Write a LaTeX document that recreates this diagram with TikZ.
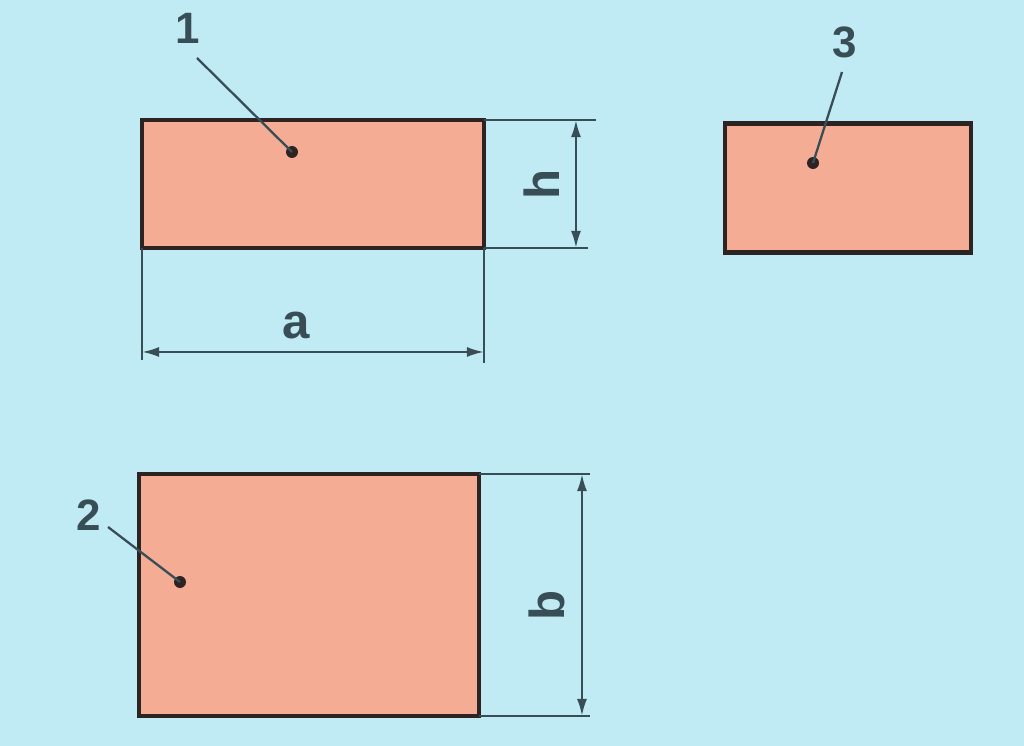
\documentclass[tikz,border=0pt]{standalone}
\usepackage{fontspec}
\setmainfont{Liberation Sans}
\usepackage{tikz}
\usetikzlibrary{positioning}
\usetikzlibrary{arrows.meta, calc}
\definecolor{bgblue}{RGB}{193,235,244}
\definecolor{brickfill}{RGB}{244,172,148}
\definecolor{edgedark}{RGB}{45,35,35}
\definecolor{dimgray}{RGB}{55,78,86}
\tikzstyle{brick} = [draw=edgedark, fill=brickfill, line width=2.4pt, inner sep=0pt, outer sep=0pt]
\tikzstyle{dimline} = [draw=dimgray, line width=1.3pt]
\tikzstyle{dimarrow} = [dimline, {Latex[length=3.4mm,width=2mm]}-{Latex[length=3.4mm,width=2mm]}]
\tikzstyle{dot} = [circle, fill=edgedark, inner sep=0pt, minimum size=2.4mm]
\tikzstyle{num} = [text=dimgray, font=\fontsize{25}{30}\selectfont\bfseries]
\tikzstyle{dimlabel} = [text=dimgray, font=\fontsize{28}{34}\selectfont\bfseries]

\begin{document}
\begin{tikzpicture}[x=0.02cm, y=-0.02cm]
  \fill[bgblue] (0,0) rectangle (1024,746);

  % Bricks
  \node[brick, minimum width=6.84cm, minimum height=2.56cm] (B1) at (313,184) {};
  \node[brick, minimum width=4.92cm, minimum height=2.58cm] (B3) at (848,188) {};
  \node[brick, minimum width=6.80cm, minimum height=4.84cm] (B2) at (309,595) {};

  % Dimension h
  \draw[dimline] (B1.north east) -- ++(112,0) coordinate (hT);
  \draw[dimline] (B1.south east) -- ++(104,0) coordinate (hB);
  \draw[dimarrow] ($(B1.north east)+(92,0)$) -- ($(B1.south east)+(92,0)$)
    node[dimlabel, midway, xshift=-0.68cm, rotate=90] (hLabel) {h};

  % Dimension a
  \draw[dimline] (B1.south west) -- ++(0,112) coordinate (aL);
  \draw[dimline] (B1.south east) -- ++(0,115) coordinate (aR);
  \draw[dimarrow] ($(B1.south west)+(0,104)$) -- ($(B1.south east)+(0,104)$)
    node[dimlabel, midway, xshift=-0.34cm, yshift=0.52cm] (aLabel) {a};

  % Dimension b
  \draw[dimline] (B2.north east) -- ++(111,0) coordinate (bT);
  \draw[dimline] (B2.south east) -- ++(111,0) coordinate (bB);
  \draw[dimarrow] ($(B2.north east)+(103,0)$) -- ($(B2.south east)+(103,0)$)
    node[dimlabel, midway, xshift=-0.70cm, yshift=-0.20cm, rotate=90] (bLabel) {b};

  % Labels
  \node[dot] (D1) at (292,152) {};
  \node[dot] (D3) at (813,163) {};
  \node[dot] (D2) at (180,582) {};
  \node[num] (N1) at (188,28) {1};
  \node[num] (N3) at (845,42) {3};
  \node[num] (N2) at (89,515) {2};
  \coordinate (L1) at (197,58);
  \coordinate (L3) at (842,72);
  \coordinate (L2) at (108,527);
  \draw[dimline] (L1) -- (D1.center);
  \draw[dimline] (L3) -- (D3.center);
  \draw[dimline] (L2) -- (D2.center);
\end{tikzpicture}
\end{document}
